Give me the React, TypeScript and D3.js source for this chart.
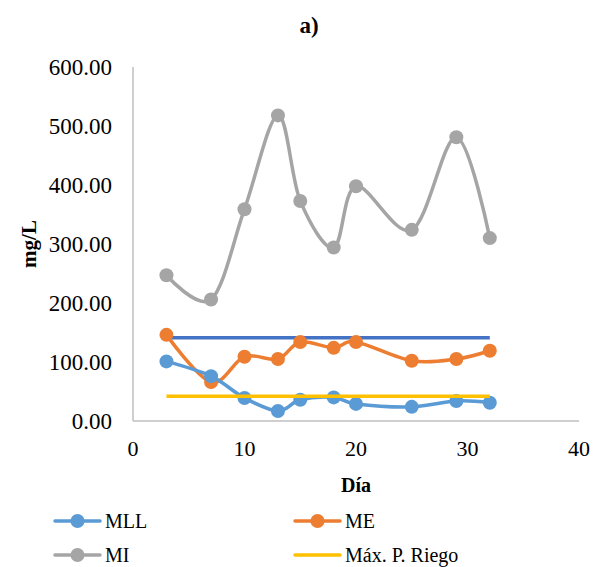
import * as d3 from 'd3'

const DAYS = [3, 7, 10, 13, 15, 18, 20, 25, 29, 32]
const MLL = [101, 76, 39, 17, 36, 40, 29, 24, 34, 31]
const ME = [146, 66, 109, 105, 134, 124, 134, 102, 105, 119]
const MI = [247, 206, 359, 518, 373, 294, 398, 324, 481, 310]
const LIMIT_TOP = 141 // dark blue reference line
const MAX_RIEGO = 42
const X_TICKS = [0, 10, 20, 30, 40]
const Y_TICKS = [0, 100, 200, 300, 400, 500, 600]

const W = 604, H = 567
const M = { l: 133, r: 25, t: 67, b: 146 }
const FONT = 'Liberation Serif'

const C_MLL = '#5B9BD5'
const C_ME = '#ED7D31'
const C_MI = '#A5A5A5'
const C_TOP = '#4472C4'
const C_RIEGO = '#FFC000'

export default function App() {
  const x = d3.scaleLinear().domain([0, 40]).range([M.l, W - M.r])
  const y = d3.scaleLinear().domain([0, 600]).range([H - M.b, M.t])

  const smooth = d3.line<number>()
    .x((_, i) => x(DAYS[i]))
    .y(v => y(v))
    .curve(d3.curveCardinal.tension(0))

  const series = [
    { name: 'MI', vals: MI, color: C_MI },
    { name: 'ME', vals: ME, color: C_ME },
    { name: 'MLL', vals: MLL, color: C_MLL },
  ]
  const x0 = DAYS[0], x1 = DAYS[DAYS.length - 1]

  const legend = [
    { name: 'MLL', color: C_MLL, marker: true, lx: 55, ly: 521 },
    { name: 'ME', color: C_ME, marker: true, lx: 295, ly: 521 },
    { name: 'MI', color: C_MI, marker: true, lx: 55, ly: 555 },
    { name: 'Máx. P. Riego', color: C_RIEGO, marker: false, lx: 295, ly: 555 },
  ]
  const ts = { fontFamily: FONT }

  return (
    <svg width={W} height={H} style={{ position: 'absolute', left: 0, top: 0, background: '#fff' }}>
      <text x={309} y={33} textAnchor="middle" fontSize={23} fontWeight="bold" style={ts}>a)</text>

      {/* axes */}
      <line x1={x(0)} x2={x(0)} y1={y(0)} y2={y(600)} stroke="#BFBFBF" strokeWidth={1.5} />
      <line x1={x(0)} x2={x(40)} y1={y(0)} y2={y(0)} stroke="#BFBFBF" strokeWidth={1.5} />
      {Y_TICKS.map(t => (
        <text key={t} x={x(0) - 21} y={y(t)} dy="0.35em" textAnchor="end" fontSize={23} style={ts}>{t.toFixed(2)}</text>
      ))}
      {X_TICKS.map(t => (
        <text key={t} x={x(t)} y={y(0) + 35} textAnchor="middle" fontSize={22} style={ts}>{t}</text>
      ))}
      <text transform={`translate(36,${(y(0) + y(600)) / 2}) rotate(-90)`} textAnchor="middle" fontSize={21} fontWeight="bold" style={ts}>mg/L</text>
      <text x={(x(0) + x(40)) / 2} y={492} textAnchor="middle" fontSize={20} fontWeight="bold" style={ts}>Día</text>

      {/* reference lines */}
      <line x1={x(x0)} x2={x(x1)} y1={y(LIMIT_TOP)} y2={y(LIMIT_TOP)} stroke={C_TOP} strokeWidth={3.5} />

      {series.map(s => (
        <g key={s.name}>
          <path d={smooth(s.vals) ?? ''} fill="none" stroke={s.color} strokeWidth={3.5} />
          {s.vals.map((v, i) => (
            <circle key={i} cx={x(DAYS[i])} cy={y(v)} r={7} fill={s.color} />
          ))}
        </g>
      ))}
      <line x1={x(x0)} x2={x(x1)} y1={y(MAX_RIEGO)} y2={y(MAX_RIEGO)} stroke={C_RIEGO} strokeWidth={3.5} />

      {/* legend */}
      {legend.map(l => (
        <g key={l.name}>
          <line x1={l.lx} x2={l.lx + 45} y1={l.ly} y2={l.ly} stroke={l.color} strokeWidth={3.5} strokeLinecap="round" />
          {l.marker && <circle cx={l.lx + 22.5} cy={l.ly} r={7} fill={l.color} />}
          <text x={l.lx + 50} y={l.ly} dy="0.35em" fontSize={20} style={ts}>{l.name}</text>
        </g>
      ))}
    </svg>
  )
}
